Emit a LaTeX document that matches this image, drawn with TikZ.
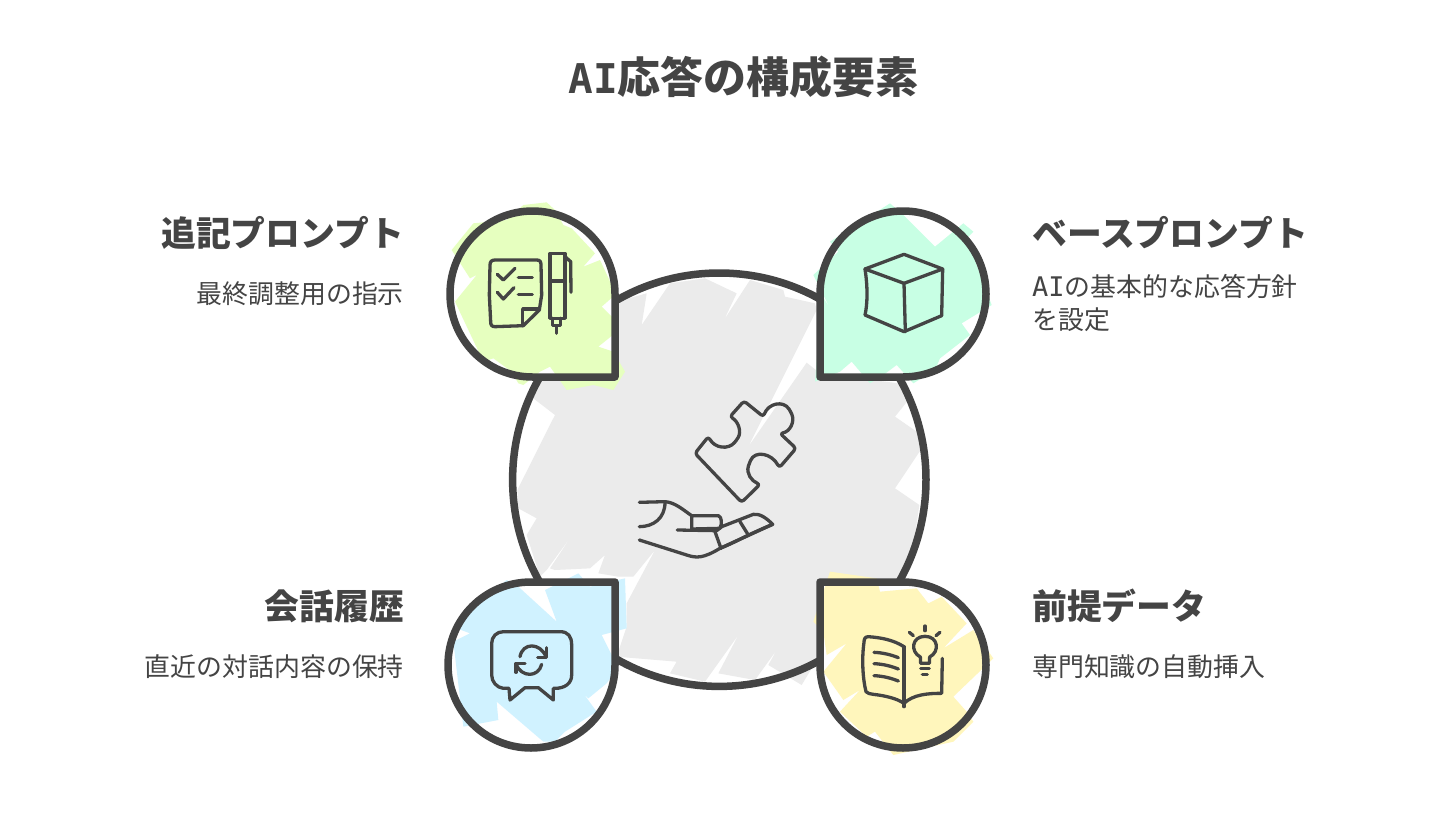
\documentclass[tikz,border=0pt]{standalone}
\usepackage{fontspec}
\newfontfamily\jp{Noto Sans CJK JP}
\newfontfamily\latinhand{DejaVu Sans Mono}
\definecolor{ink}{HTML}{444444}
\definecolor{greyfill}{HTML}{EBEBEB}
\definecolor{greenfill}{HTML}{E6FFBF}
\definecolor{mintfill}{HTML}{C8FFE4}
\definecolor{bluefill}{HTML}{D0F2FF}
\definecolor{yellowfill}{HTML}{FFF6BC}
\tikzset{
 outline/.style={draw=ink,line width=7.5pt,line join=round,line cap=round},
 icon/.style={draw=ink,line width=3.3pt,line join=round,line cap=round},
 title/.style={inner sep=0pt,text=ink,font=\jp\bfseries\fontsize{43}{50}\selectfont},
 head/.style={inner sep=0pt,text=ink,font=\jp\bfseries\fontsize{34.8}{40}\selectfont},
 desc/.style={inner sep=0pt,text=ink,font=\jp\fontsize{25.9}{33}\selectfont},
 zgreen/.style={shift={(440,195)},x=.33333pt,y=-.33333pt},
 zmint/.style={shift={(810,195)},x=.33333pt,y=-.33333pt},
 zblue/.style={shift={(440,565)},x=.33333pt,y=-.33333pt},
 zyellow/.style={shift={(810,565)},x=.33333pt,y=-.33333pt}
}
\def\greenpoly{(320,22)--(345,45)--(370,90)--(395,100)--(465,175)--(430,215)--(480,195)--(515,270)--(525,300)--(485,335)--(525,375)--(525,415)--(475,455)--(520,470)--(555,530)--(520,585)--(460,570)--(380,585)--(330,515)--(300,530)--(250,570)--(235,565)--(215,530)--(160,490)--(130,500)--(45,320)--(110,240)--(90,250)--(35,165)--(100,85)--(200,75)--(250,30)--cycle}
\def\mintpoly{(240,25)--(280,60)--(375,155)--(460,85)--(490,110)--(470,130)--(500,210)--(545,330)--(455,385)--(480,420)--(390,490)--(375,525)--(310,565)--(260,510)--(220,540)--(180,565)--(125,500)--(90,530)--(15,560)--(35,300)--(60,340)--(10,240)--(85,170)--(60,140)--cycle}
\def\bluepoly{(200,45)--(235,65)--(350,170)--(315,75)--(415,25)--(450,65)--(555,40)--(560,190)--(485,210)--(520,280)--(525,320)--(500,355)--(445,400)--(430,385)--(470,440)--(375,500)--(345,530)--(310,530)--(170,410)--(175,465)--(70,485)--(40,230)--(90,205)--(50,190)--(120,110)--cycle}
\def\yellowpoly{(60,20)--(200,40)--(210,80)--(320,70)--(355,115)--(395,95)--(470,175)--(400,250)--(490,195)--(550,280)--(430,395)--(470,440)--(490,470)--(430,530)--(250,570)--(195,500)--(170,515)--(90,440)--(150,375)--(100,405)--(40,320)--(110,235)--(50,270)--(40,200)--(10,170)--cycle}
\def\dropTL{(615,377)--(532.5,377) .. controls (487,377) and (450,340) .. (450,294) .. controls (450,248) and (487,211) .. (532.5,211) .. controls (578,211) and (615,248) .. (615,294)--cycle}
\def\dropTR{(820,377)--(903,377) .. controls (949,377) and (986,340) .. (986,294) .. controls (986,248) and (949,211) .. (903,211) .. controls (857,211) and (820,248) .. (820,294)--cycle}
\def\dropBL{(615,582)--(531,582) .. controls (485,582) and (448,619) .. (448,665) .. controls (448,711) and (485,748) .. (531,748) .. controls (577,748) and (615,711) .. (615,665)--cycle}
\def\dropBR{(820,582)--(903,582) .. controls (949,582) and (986,619) .. (986,665) .. controls (986,711) and (949,748) .. (903,748) .. controls (857,748) and (820,711) .. (820,665)--cycle}
\begin{document}
\begin{tikzpicture}[x=1pt,y=-1pt]
\useasboundingbox (0,0) rectangle (1456,822);
\fill[white] (0,0) rectangle (1456,822);
% central disc fill
\begin{scope}[shift={(500,260)},x=.33333pt,y=-.33333pt]
\fill[greyfill] (350,125)--(440,100)--(425,195)--(510,70)--(615,55)--(710,100)--(672,180)--(750,60)--(850,90)--(855,110)--(945,130)--(950,150)--(745,560)--(920,308)--(960,340)--(1195,370)--(1225,420)--(1185,470)--(1250,515)--(1262,570)--(1185,685)--(1258,735)--(1240,860)--(1195,955)--(960,1000)--(950,1200)--(905,1275)--(805,1215)--(830,1170)--(765,1260)--(655,1240)--(715,1125)--(615,1265)--(510,1240)--(530,1205)--(350,1190)--(380,1100)--(380,1030)--(465,870)--(400,950)--(355,950)--(295,940)--(315,885)--(270,925)--(165,930)--(150,925)--(220,820)--(140,930)--(120,950)--(80,825)--(110,775)--(55,745)--(52,690)--(165,465)--(100,415)--(120,360)--(350,350)--cycle;
\end{scope}
% parts of the colour scribbles that stick out beyond the drops
\begin{scope}[zgreen]\fill[greenfill] \greenpoly;\end{scope}
\begin{scope}[zmint]\fill[mintfill] \mintpoly;\end{scope}
\begin{scope}[zblue]\fill[bluefill] \bluepoly;\end{scope}
\begin{scope}[zyellow]\fill[yellowfill] \yellowpoly;\end{scope}
\draw[outline] (719.3,479.7) circle[radius=206.7];
% green drop
\fill[white] \dropTL;
\begin{scope}\clip \dropTL;
\begin{scope}[zgreen]\fill[greenfill] \greenpoly;\end{scope}\end{scope}
\begin{scope}[zgreen]
\path[icon] (165,195)--(290,195) .. controls (300,195) and (303,200) .. (303,210)--(305,300)--(298,345)--(250,392)--(165,395) .. controls (155,395) and (152,390) .. (152,380)--(148,300)--(150,210) .. controls (150,200) and (155,195) .. (165,195);
\path[icon] (298,342)--(248,342)--(248,392);
\path[icon] (172,238)--(190,255)--(225,220);
\path[icon] (172,292)--(190,312)--(222,278);
\path[icon] (235,247)--(277,247);
\path[icon] (235,298)--(277,298);
\path[icon] (330,175)--(375,175)--(375,370)--(330,370)--cycle;
\path[icon] (330,258)--(375,258);
\path[icon] (375,185)--(392,200)--(393,292);
\path[icon] (337,370)--(337,392)--(362,392)--(362,370);
\path[icon] (350,392)--(350,415);
\end{scope}
\draw[outline] \dropTL;
% mint drop
\fill[white] \dropTR;
\begin{scope}\clip \dropTR;
\begin{scope}[zmint]\fill[mintfill] \mintpoly;\end{scope}\end{scope}
\begin{scope}[zmint]
\path[icon] (165,222)--(282,178)--(398,222)--(282,265)--cycle;
\path[icon] (282,265)--(286,410);
\path[icon] (165,222) .. controls (174,280) and (172,330) .. (165,360)--(282,410)--(395,362)--(398,222);
\end{scope}
\draw[outline] \dropTR;
% blue drop
\fill[white] \dropBL;
\begin{scope}\clip \dropBL;
\begin{scope}[zblue]\fill[bluefill] \bluepoly;\end{scope}\end{scope}
\begin{scope}[zblue]
\path[icon] (190,200)--(360,200) .. controls (385,200) and (395,215) .. (395,240)--(395,330) .. controls (395,355) and (375,370) .. (345,370)--(340,370)--(340,405)--(295,368)--(255,368)--(210,405)--(207,370)--(190,370) .. controls (170,368) and (155,350) .. (155,330)--(155,235) .. controls (155,215) and (170,200) .. (190,200);
\path[icon] (240,275) .. controls (248,232) and (300,232) .. (318,275);
\path[icon] (320,248)--(320,277)--(293,277);
\path[icon] (305,298) .. controls (295,338) and (245,338) .. (228,298);
\path[icon] (228,322)--(228,295)--(255,295);
\end{scope}
\draw[outline] \dropBL;
% yellow drop
\fill[white] \dropBR;
\begin{scope}\clip \dropBR;
\begin{scope}[zyellow]\fill[yellowfill] \yellowpoly;\end{scope}\end{scope}
\begin{scope}[zyellow]
\path[icon] (282,245) .. controls (250,225) and (215,218) .. (175,215) .. controls (165,215) and (162,222) .. (162,232) .. controls (155,280) and (158,340) .. (168,380) .. controls (172,386) and (180,386) .. (190,388) .. controls (225,392) and (260,400) .. (282,415);
\path[icon] (282,245)--(282,425);
\path[icon] (282,415) .. controls (310,388) and (355,385) .. (395,385)--(397,280);
\path[icon] (192,262) .. controls (220,263) and (245,270) .. (265,278);
\path[icon] (192,296) .. controls (220,297) and (245,304) .. (265,312);
\path[icon] (192,332) .. controls (220,333) and (245,340) .. (265,348);
\path[icon] (331,276) .. controls (300,260) and (305,214) .. (345,214) .. controls (385,214) and (390,260) .. (359,276)--(358,295)--(332,295)--cycle;
\path[icon] (332,310)--(358,310);
\path[icon] (337,328)--(352,328);
\path[icon] (345,183)--(345,197);
\path[icon] (298,202)--(310,212);
\path[icon] (390,202)--(378,212);
\end{scope}
\draw[outline] \dropBR;
% centre icon
\begin{scope}[shift={(620,385)},x=.33333pt,y=-.33333pt]
\path[icon,rounded corners=3pt] (225,205)--(265,155) .. controls (285,190) and (325,195) .. (350,165) .. controls (365,140) and (355,110) .. (330,95)--(372,48)--(430,95) .. controls (445,55) and (490,45) .. (512,80) .. controls (525,110) and (510,140) .. (480,145)--(528,190)--(478,248) .. controls (455,205) and (405,195) .. (388,235) .. controls (378,265) and (395,288) .. (420,298)--(365,352)--cycle;
\path[icon] (58,352)--(135,350) .. controls (165,352) and (190,375) .. (215,392);
\path[icon] (215,392)--(295,392) .. controls (305,395) and (307,415) .. (300,430)--(215,432)--cycle;
\path[icon] (172,435)--(290,437)--(305,425)--(400,388) .. controls (420,385) and (440,400) .. (458,418)--(300,490) .. controls (250,520) and (230,520) .. (200,510)--(58,465);
\path[icon] (135,352) .. controls (135,400) and (100,425) .. (58,425);
\path[icon] (285,440)--(303,490);
\path[icon] (360,410)--(385,450);
\path[icon] (300,490) .. controls (340,475) and (380,450) .. (458,418);
\end{scope}
% texts
\node[title,anchor=base east] (t) at (919,93) {{\latinhand\bfseries\fontsize{41}{50}\selectfont AI}応答の構成要素};
\node[head,anchor=base east] (h1) at (404,246) {追記プロンプト};
\node[desc,anchor=base east] (d1) at (404,303) {最終調整用の指示};
\node[head,anchor=base west] (h2) at (1032,246) {ベースプロンプト};
\node[desc,anchor=north west,align=left] (d2) at (1032,274) {{\latinhand\fontsize{27}{33}\selectfont AI}の基本的な応答方針\\を設定};
\node[head,anchor=base east] (h3) at (404,619) {会話履歴};
\node[desc,anchor=base east] (d3) at (404,676) {直近の対話内容の保持};
\node[head,anchor=base west] (h4) at (1032,619) {前提データ};
\node[desc,anchor=base west] (d4) at (1032,676) {専門知識の自動挿入};
\end{tikzpicture}
\end{document}
